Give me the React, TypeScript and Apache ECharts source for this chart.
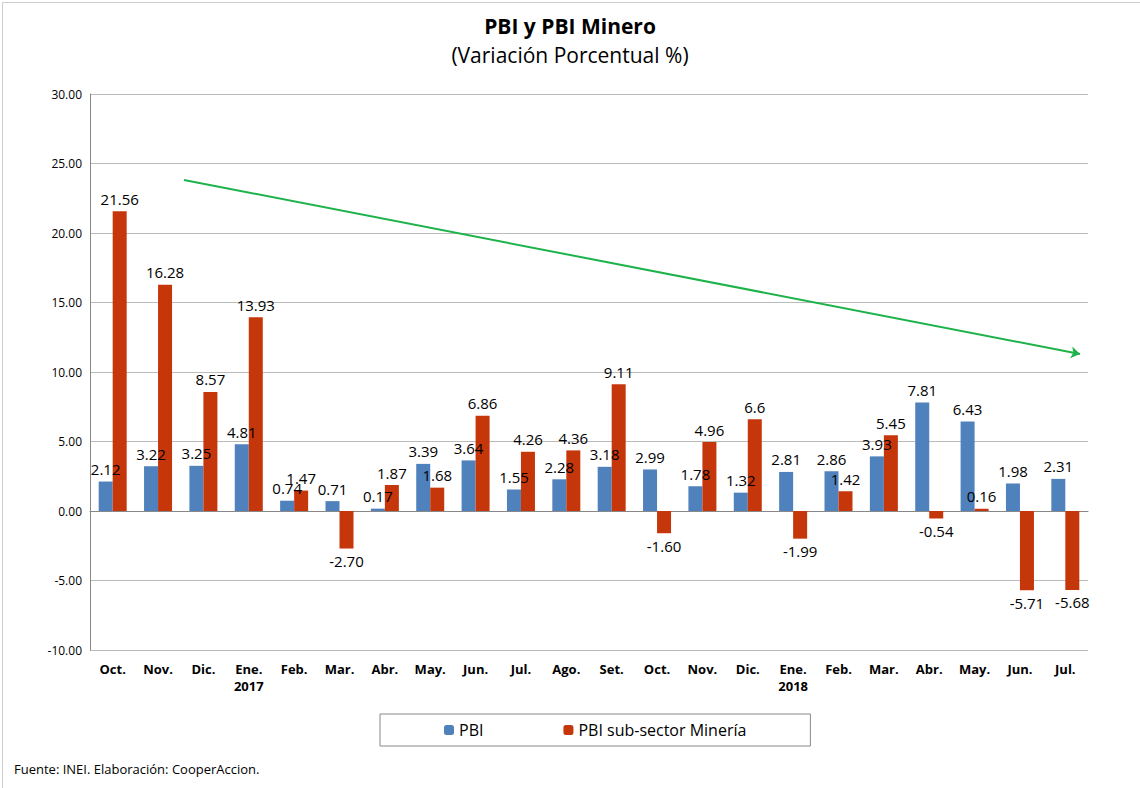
import React, { useEffect, useRef } from "react";
import * as echarts from "echarts";

const categories = ["Oct.", "Nov.", "Dic.", "Ene.\n2017", "Feb.", "Mar.", "Abr.", "May.", "Jun.", "Jul.", "Ago.", "Set.", "Oct.", "Nov.", "Dic.", "Ene.\n2018", "Feb.", "Mar.", "Abr.", "May.", "Jun.", "Jul."];
const pbi = [2.12, 3.22, 3.25, 4.81, 0.74, 0.71, 0.17, 3.39, 3.64, 1.55, 2.28, 3.18, 2.99, 1.78, 1.32, 2.81, 2.86, 3.93, 7.81, 6.43, 1.98, 2.31];
const mineria = [21.56, 16.28, 8.57, 13.93, 1.47, -2.7, 1.87, 1.68, 6.86, 4.26, 4.36, 9.11, -1.6, 4.96, 6.6, -1.99, 1.42, 5.45, -0.54, 0.16, -5.71, -5.68];
const mineriaLabels = ["21.56", "16.28", "8.57", "13.93", "1.47", "-2.70", "1.87", "1.68", "6.86", "4.26", "4.36", "9.11", "-1.60", "4.96", "6.6", "-1.99", "1.42", "5.45", "-0.54", "0.16", "-5.71", "-5.68"];

const FONT = "'Open Sans', 'Noto Sans', sans-serif";

export default function App() {
  const ref = useRef<HTMLDivElement>(null);
  useEffect(() => {
    document.body.style.margin = "0";
    const chart = echarts.init(ref.current!, null, { renderer: "svg" });
    chart.setOption({
      animation: false,
      textStyle: { fontFamily: FONT },
      title: {
        text: "PBI y PBI Minero",
        subtext: "(Variación Porcentual %)",
        left: "center",
        top: 10,
        itemGap: 8,
        textStyle: { fontSize: 21, fontWeight: "bold", color: "#000", fontFamily: FONT },
        subtextStyle: { fontSize: 21, color: "#000", fontFamily: FONT },
      },
      grid: { left: 90, right: 52, top: 94, bottom: 138 },
      legend: {
        bottom: 42,
        left: 380,
        itemGap: 80,
        padding: [8, 64],
        borderColor: "#888",
        borderWidth: 1,
        itemWidth: 10,
        itemHeight: 10,
        textStyle: { fontSize: 16, color: "#000", fontFamily: FONT },
        data: ["PBI", "PBI sub-sector Minería"],
      },
      graphic: [
        { type: "rect", left: 0, top: 0, shape: { width: 1139, height: 787 }, style: { fill: "none", stroke: "#ccc", lineWidth: 1 } },
        { type: "text", left: 14, top: 762, style: { text: "Fuente: INEI. Elaboración: CooperAccion.", fontSize: 13, fill: "#000", fontFamily: FONT } },
      ],
      xAxis: {
        type: "category",
        data: categories,
        axisTick: { show: false },
        axisLine: { lineStyle: { color: "#888" } },
        axisLabel: { interval: 0, fontWeight: "bold", fontSize: 13, color: "#000", margin: 10, lineHeight: 17, fontFamily: FONT },
      },
      yAxis: {
        type: "value",
        min: -10,
        max: 30,
        interval: 5,
        axisLine: { show: true, lineStyle: { color: "#888" } },
        splitLine: { lineStyle: { color: "#bbb" } },
        axisLabel: { formatter: (v: number) => v.toFixed(2), fontSize: 12, color: "#000", fontFamily: FONT },
      },
      series: [
        {
          name: "PBI",
          type: "bar",
          barWidth: 14,
          barGap: "0%",
          itemStyle: { color: "#4F81BD" },
          label: { show: true, position: "top", fontSize: 15, color: "#000", formatter: (p: any) => p.value.toFixed(2) },
          data: pbi,
        },
        {
          name: "PBI sub-sector Minería",
          type: "bar",
          barWidth: 14,
          barGap: "0%",
          itemStyle: { color: "#C6360B" },
          label: { show: true, fontSize: 15, color: "#000", formatter: (p: any) => mineriaLabels[p.dataIndex] },
          data: mineria.map((v) => ({ value: v, label: { position: v < 0 ? "bottom" : "top" } })),
          markLine: {
            silent: true,
            symbol: ["none", "arrow"],
            symbolSize: 9,
            label: { show: false },
            lineStyle: { color: "#1DB34A", width: 2, type: "solid" },
            data: [[{ x: 184, y: 180 }, { x: 1080, y: 354 }]],
          },
        },
      ],
    });
    return () => chart.dispose();
  }, []);
  return <div ref={ref} style={{ width: 1140, height: 788 }} />;
}
